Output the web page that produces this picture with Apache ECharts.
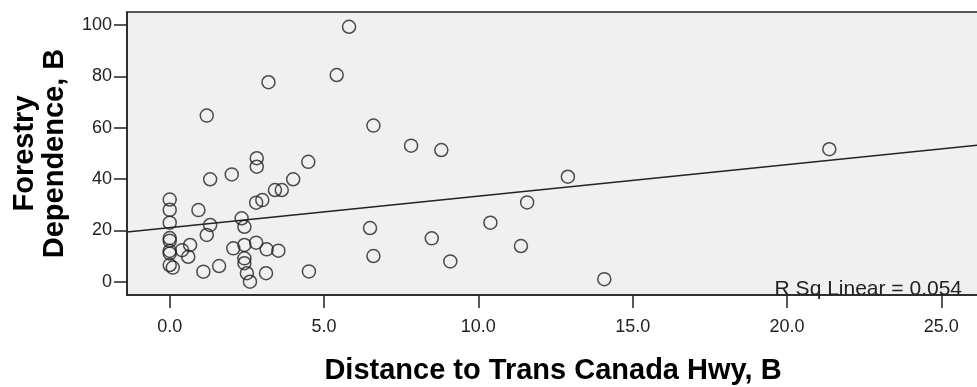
<!DOCTYPE html>
<html>
<head>
<meta charset="utf-8">
<script src="https://cdn.jsdelivr.net/npm/echarts@6/dist/echarts.min.js"></script>
<style>
html,body{margin:0;padding:0;background:#fff;}
#chart{width:977px;height:387px;}
</style>
</head>
<body>
<div id="chart"></div>
<script>
// Distance to Trans Canada Hwy (x) and Forestry Dependence (y)
const distance = [
  0.0, 0.0, 0.0, 0.0, 0.0, 0.0, 0.0, 0.0, 0.1,
  0.93, 1.31, 1.2, 0.66, 0.4, 0.6, 1.09, 1.6,
  1.31, 2.01, 2.33, 2.42, 2.82, 2.82, 2.8, 3.0, 3.41, 3.63, 4.0, 4.49,
  2.06, 2.42, 2.8, 3.14, 3.52, 2.42, 2.42, 2.5, 2.6, 3.12, 4.51,
  3.2, 1.2, 5.81, 5.41, 6.6, 7.82, 8.8, 12.9, 11.58, 6.49, 10.39, 8.49,
  11.38, 6.6, 9.09, 14.08, 21.37
];
const dependence = [
  32.0, 28.0, 23.0, 17.0, 16.0, 12.0, 11.0, 6.5, 5.5,
  27.9, 22.1, 18.2, 14.3, 12.3, 9.7, 3.9, 6.1,
  39.9, 41.8, 24.7, 21.4, 48.1, 44.8, 30.8, 31.8, 35.7, 35.7, 39.9, 46.7,
  13.0, 14.3, 15.2, 12.6, 12.1, 9.1, 7.2, 3.3, 0.0, 3.3, 4.0,
  77.7, 64.7, 99.3, 80.5, 60.8, 53.0, 51.3, 40.9, 30.9, 20.9, 23.0, 16.9,
  13.9, 10.0, 7.9, 1.0, 51.6
];
const xTicks = [0, 5, 10, 15, 20, 25];
const yTicks = [0, 20, 40, 60, 80, 100];
const fitIntercept = 21.1;
const fitSlope = 1.225;
const rSqText = 'R Sq Linear = 0.054';

const xMin = -1.384, xMax = 26.22;
const yMin = -5.18, yMax = 105.06;

const points = distance.map((d, i) => [d, dependence[i]]);
const fitLine = [[xMin, fitIntercept + fitSlope * xMin], [xMax, fitIntercept + fitSlope * xMax]];

const FONT = "'Liberation Sans', Arial, sans-serif";
const chart = echarts.init(document.getElementById('chart'), null, {renderer: 'canvas'});
chart.setOption({
  animation: false,
  backgroundColor: '#ffffff',
  grid: {
    left: 127, top: 12, right: -2, bottom: 92,
    containLabel: false, outerBoundsMode: 'none',
    show: true, backgroundColor: '#f0f0f0',
    borderColor: '#222', borderWidth: 1.5
  },
  xAxis: {
    type: 'value', min: xMin, max: xMax,
    name: 'Distance to Trans Canada Hwy, B',
    nameLocation: 'middle', nameGap: 61,
    nameTextStyle: {fontFamily: FONT, fontSize: 29, fontWeight: 'bold', color: '#000'},
    axisLine: {show: true, onZero: false, lineStyle: {color: '#222', width: 1.5}},
    axisTick: {show: true, inside: false, length: 13, customValues: xTicks, lineStyle: {color: '#222', width: 1.5}},
    axisLabel: {show: true, customValues: xTicks, margin: 23,
      fontFamily: FONT, fontSize: 18, color: '#222',
      formatter: v => v.toFixed(1)},
    splitLine: {show: false}
  },
  yAxis: {
    type: 'value', min: yMin, max: yMax,
    name: 'Forestry\nDependence, B',
    nameLocation: 'middle', nameGap: 57, nameRotate: 90,
    nameTextStyle: {fontFamily: FONT, fontSize: 29, fontWeight: 'bold', color: '#000', lineHeight: 30, align: 'center'},
    axisLine: {show: true, onZero: false, lineStyle: {color: '#222', width: 1.5}},
    axisTick: {show: true, inside: false, length: 13, customValues: yTicks, lineStyle: {color: '#222', width: 1.5}},
    axisLabel: {show: true, customValues: yTicks, margin: 15,
      fontFamily: FONT, fontSize: 18, color: '#222'},
    splitLine: {show: false}
  },
  series: [
    {
      type: 'line', data: fitLine, symbol: 'none',
      lineStyle: {color: '#222', width: 1.5}, silent: true, z: 2
    },
    {
      type: 'scatter', data: points, symbol: 'circle', symbolSize: 13,
      itemStyle: {color: 'rgba(0,0,0,0)', borderColor: '#222', borderWidth: 1.5}, z: 3
    }
  ],
  graphic: [{
    type: 'text', right: 15, top: 279, z: 10,
    style: {text: rSqText, fontFamily: FONT, fontSize: 21, fill: '#222'}
  }]
});
</script>
</body>
</html>
